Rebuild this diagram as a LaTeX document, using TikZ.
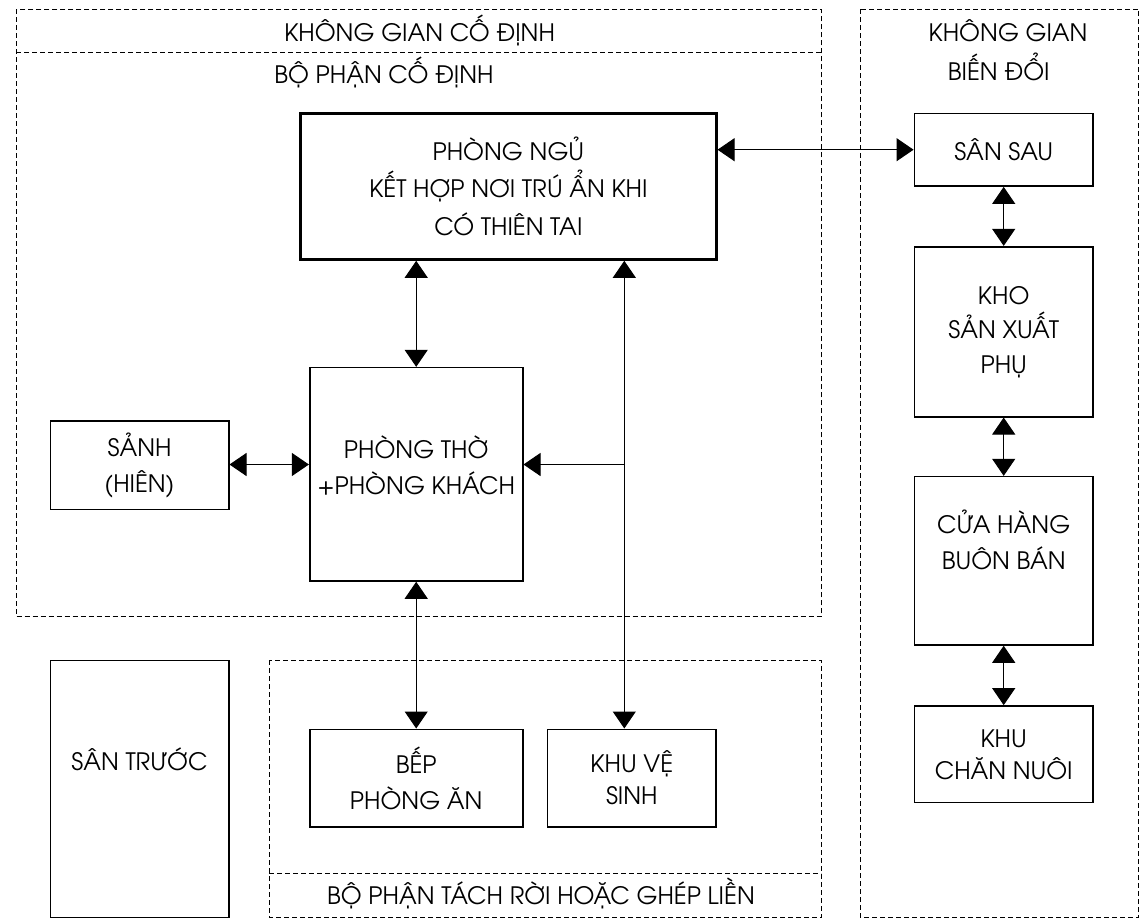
\documentclass[tikz,border=0pt]{standalone}
\usepackage{fontspec}
\setmainfont{texgyreadventor-regular.otf}
\usetikzlibrary{arrows.meta}
\tikzset{
  box/.style={draw, line width=1.6pt, inner sep=0pt, align=center, font=\fontsize{24}{36}\selectfont},
  lbl/.style={align=center, inner sep=0pt, font=\fontsize{24}{36}\selectfont},
  region/.style={draw, line width=0.9pt, dash pattern=on 5pt off 3pt},
  conn/.style={line width=1pt, {Triangle[length=17pt,width=23pt]}-{Triangle[length=17pt,width=23pt]}},
  oneway/.style={line width=1pt, -{Triangle[length=17pt,width=23pt]}},
  ttl/.style={font=\fontsize{24}{28}\selectfont, anchor=base, inner sep=0pt}
}
\begin{document}
\begin{tikzpicture}[x=1pt,y=-1pt]
\useasboundingbox (0,0) rectangle (1144,922);
% regions
\draw[region] (16,9.3) rectangle (821.3,616.7);
\draw[region] (16,52.3) -- (821.3,52.3);
\draw[region] (860.3,9.3) rectangle (1138.7,917.5);
\draw[region] (269.3,660.3) rectangle (821.3,917.5);
\draw[region] (269.3,873.7) -- (821.3,873.7);
\node[ttl] (t1) at (419.6,41.7) {KHÔNG GIAN CỐ ĐỊNH};
\node[ttl] (t2) at (384,83.4) {BỘ PHẬN CỐ ĐỊNH};
\node[ttl] (t3) at (1008,41.7) {KHÔNG GIAN};
\node[ttl] (t4) at (998.7,80) {BIẾN ĐỔI};
\node[ttl] (t5) at (541,904.4) {BỘ PHẬN TÁCH RỜI HOẶC GHÉP LIỀN};
% boxes
\node[box, line width=3pt, minimum width=415.3pt, minimum height=146pt, font=\fontsize{24}{37.5}\selectfont] (bed) at (508.4,186.3) {PHÒNG NGỦ\\KẾT HỢP NƠI TRÚ ẨN KHI\\CÓ THIÊN TAI};
\node[box, minimum width=178.7pt, minimum height=72.7pt] (sansau) at (1003.7,149.7) {SÂN SAU};
\node[box, minimum width=178.7pt, minimum height=170pt, font=\fontsize{24}{34.5}\selectfont] (kho) at (1003.7,331.7) {KHO\\SẢN XUẤT\\PHỤ};
\node[box, minimum width=178.7pt, minimum height=168.3pt, label={[lbl, yshift=21pt]center:{CỬA HÀNG\\BUÔN BÁN}}] (cuahang) at (1003.7,560.8) {};
\node[box, minimum width=178.7pt, minimum height=96.7pt, font=\fontsize{24}{32}\selectfont] (channuoi) at (1003.7,754.3) {KHU\\CHĂN NUÔI};
\node[box, minimum width=213pt, minimum height=213.3pt, label={[lbl, yshift=9pt]center:{PHÒNG THỜ\\+PHÒNG KHÁCH}}] (tho) at (416.2,474.3) {};
\node[box, minimum width=178.4pt, minimum height=88.6pt] (sanh) at (139.5,465) {SẢNH\\(HIÊN)};
\node[box, minimum width=178.4pt, minimum height=257.2pt, label={[lbl, yshift=30pt]center:{SÂN TRƯỚC}}] (santruoc) at (139.5,788.9) {};
\node[box, minimum width=213pt, minimum height=97.4pt] (bep) at (416.2,778) {BẾP\\PHÒNG ĂN};
\node[box, minimum width=168.3pt, minimum height=97.4pt, font=\fontsize{24}{32}\selectfont] (wc) at (631.8,778) {KHU VỆ\\SINH};
% connectors
\coordinate (j) at (624.3,464.5);
\draw[conn] (sansau.west -| bed.east) -- (sansau.west);
\draw[conn] (tho.north |- bed.south) -- (tho.north);
\draw[conn] (tho.south) -- (bep.north);
\draw[conn] (sanh.east |- j) -- (j -| tho.west);
\draw[conn] (j |- bed.south) -- (j |- wc.north);
\draw[oneway] (j) -- (j -| tho.east);
\draw[conn] (sansau.south) -- (kho.north);
\draw[conn] (kho.south) -- (cuahang.north);
\draw[conn] (cuahang.south) -- (channuoi.north);
\end{tikzpicture}
\end{document}
